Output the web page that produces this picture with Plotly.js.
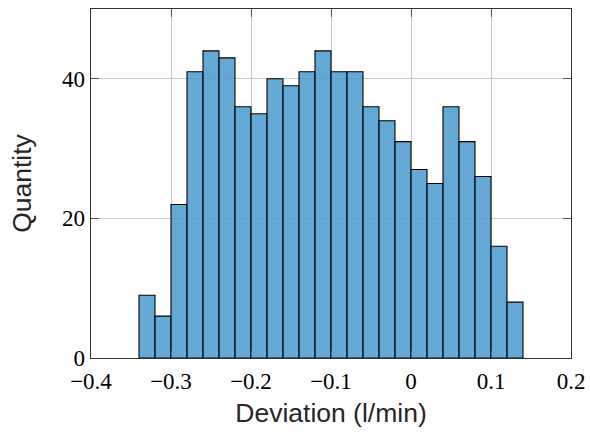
<!DOCTYPE html>
<html>
<head>
<meta charset="utf-8">
<script src="https://cdn.plot.ly/plotly-3.0.1.min.js"></script>
<style>html,body{margin:0;padding:0;background:#fff;}</style>
</head>
<body>
<div id="chart" style="width:590px;height:432px;"></div>
<script>
// Histogram bins (left edges, l/min) and counts
const binStarts = [-0.34, -0.32, -0.30, -0.28, -0.26, -0.24, -0.22, -0.20, -0.18, -0.16, -0.14, -0.12,
                   -0.10, -0.08, -0.06, -0.04, -0.02, 0.00, 0.02, 0.04, 0.06, 0.08, 0.10, 0.12];
const binWidth = 0.02;
const counts = [9, 6, 22, 41, 44, 43, 36, 35, 40, 39, 41, 44,
                41, 41, 36, 34, 31, 27, 25, 36, 31, 26, 16, 8];
const xTickVals = [-0.4, -0.3, -0.2, -0.1, 0, 0.1, 0.2];
const yTickVals = [0, 20, 40];

const trace = {
  type: 'bar',
  x: binStarts,
  y: counts,
  width: binStarts.map(() => binWidth),
  offset: 0,
  marker: {color: 'rgba(78,157,208,0.88)', line: {color: '#000', width: 1.1}},
  hoverinfo: 'x+y'
};

const tickFont = {family: '"Liberation Serif", "DejaVu Serif", serif', size: 23, color: '#000'};
const titleFont = {family: '"Liberation Sans", Arial, sans-serif', size: 26.5, color: '#262626'};

const layout = {
  width: 590, height: 432,
  margin: {l: 91, r: 19, t: 9, b: 74},
  paper_bgcolor: '#fff', plot_bgcolor: '#fff',
  showlegend: false,
  bargap: 0,
  xaxis: {
    range: [-0.4, 0.2],
    tickvals: xTickVals,
    ticktext: xTickVals.map(v => v === 0 ? '0' : (v < 0 ? '\u2212' : '') + Math.abs(v).toFixed(1)),
    ticks: 'inside', ticklen: 8, tickcolor: '#555', tickwidth: 1,
    showline: true, linecolor: '#333', linewidth: 1.3, mirror: 'ticks',
    showgrid: true, gridcolor: '#c8c8c8', gridwidth: 1,
    zeroline: false,
    tickfont: tickFont,
    ticklabelstandoff: 2,
    title: {text: 'Deviation (l/min)', font: titleFont, standoff: 10}
  },
  yaxis: {
    range: [0, 50],
    tickvals: yTickVals,
    ticks: 'inside', ticklen: 8, tickcolor: '#555', tickwidth: 1,
    showline: true, linecolor: '#333', linewidth: 1.3, mirror: 'ticks',
    showgrid: true, gridcolor: '#c8c8c8', gridwidth: 1,
    zeroline: false,
    tickfont: tickFont,
    title: {text: 'Quantity', font: titleFont, standoff: 22}
  }
};

Plotly.newPlot('chart', [trace], layout, {displayModeBar: false, staticPlot: true});
</script>
</body>
</html>
